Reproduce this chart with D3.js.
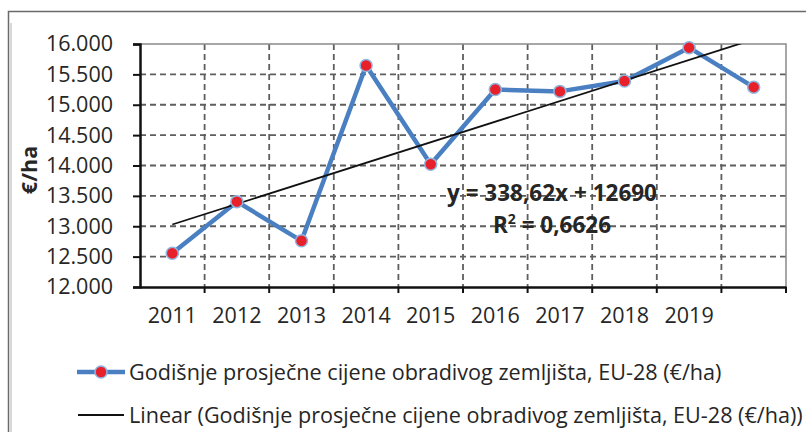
<!DOCTYPE html>
<html lang="hr">
<head>
<meta charset="UTF-8"/>
<title>Godišnje prosječne cijene obradivog zemljišta</title>
<script src="https://d3js.org/d3.v7.min.js"></script>
<style>
    body { margin: 0; background: white; }
    text { font-family: "Open Sans", sans-serif; fill: #262626; }
</style>
</head>
<body>
<script>
    // data
    const years = ["2011", "2012", "2013", "2014", "2015", "2016", "2017", "2018", "2019", "2020"];
    const yearLabels = ["2011", "2012", "2013", "2014", "2015", "2016", "2017", "2018", "2019", ""];
    const prices = [12555, 13405, 12760, 15645, 14020, 15250, 15220, 15390, 15940, 15290];
    const yTicks = [12000, 12500, 13000, 13500, 14000, 14500, 15000, 15500, 16000];
    const trendSlope = 338.62;
    const trendIntercept = 12690;
    const seriesName = "Godišnje prosječne cijene obradivog zemljišta, EU-28 (€/ha)";

    const width = 806;
    const height = 436;
    const margin = {top: 44, right: 20, bottom: 149, left: 140};
    const gW = width - margin.left - margin.right;
    const gH = height - margin.top - margin.bottom;

    const svg = d3.select("body").append("svg")
        .attr("width", width)
        .attr("height", height);

    // outer frame (top and left edge only visible)
    svg.append("path")
        .attr("d", `M8.5,${height - 4} V11.5 H${width}`)
        .attr("fill", "none")
        .attr("stroke", "#6a6a6a")
        .attr("stroke-width", 1.5);
    svg.append("line")
        .attr("x1", 11).attr("x2", 11).attr("y1", 23).attr("y2", height - 4)
        .attr("stroke", "#d8d8d8").attr("stroke-width", 2);

    const g = svg.append("g").attr("transform", `translate(${margin.left}, ${margin.top})`);

    const x = d3.scaleBand().domain(years).range([0, gW]);
    const y = d3.scaleLinear().domain([12000, 16000]).range([gH, 0]);
    const cx = d => x(d) + x.bandwidth() / 2;

    // grid
    g.append("g").selectAll("line")
        .data(yTicks.slice(1, -1))
        .join("line")
        .attr("x1", 0).attr("x2", gW)
        .attr("y1", d => y(d)).attr("y2", d => y(d))
        .attr("stroke", "#5e5e5e").attr("stroke-width", 1.8)
        .attr("stroke-dasharray", "6,4");
    g.append("g").selectAll("line")
        .data(years.slice(1))
        .join("line")
        .attr("x1", d => x(d)).attr("x2", d => x(d))
        .attr("y1", 0).attr("y2", gH)
        .attr("stroke", "#5e5e5e").attr("stroke-width", 1.8)
        .attr("stroke-dasharray", "6,4");

    // plot border top and right
    g.append("path")
        .attr("d", `M0,0 H${gW} V${gH}`)
        .attr("fill", "none")
        .attr("stroke", "#8a8a8a")
        .attr("stroke-width", 1.5);

    // axes
    const yAxis = g.append("g")
        .call(d3.axisLeft(y).tickValues(yTicks).tickSize(7).tickPadding(20)
            .tickFormat(d => d3.format(",")(d).replace(",", ".")));
    yAxis.select(".domain").attr("stroke", "#111").attr("stroke-width", 2.5);
    yAxis.selectAll(".tick line").attr("stroke", "#111").attr("stroke-width", 2);
    yAxis.selectAll(".tick text")
        .style("font-family", "'Open Sans', sans-serif")
        .style("font-size", "21.5px")
        .attr("fill", "#222");

    const xAxis = g.append("g")
        .attr("transform", `translate(0, ${gH})`)
        .call(d3.axisBottom(x).tickSize(0).tickPadding(21).tickFormat((d, i) => yearLabels[i]));
    xAxis.select(".domain").attr("stroke", "#111").attr("stroke-width", 2.5);
    xAxis.selectAll(".tick text")
        .style("font-family", "'Open Sans', sans-serif")
        .style("font-size", "21.5px")
        .attr("fill", "#222");
    xAxis.append("g").selectAll("line")
        .data(years.slice(1).concat(["end"]))
        .join("line")
        .attr("x1", d => d === "end" ? gW : x(d))
        .attr("x2", d => d === "end" ? gW : x(d))
        .attr("y1", 0).attr("y2", 6)
        .attr("stroke", "#111").attr("stroke-width", 2);

    // y axis title
    svg.append("text")
        .attr("transform", `translate(37, 170) rotate(-90)`)
        .attr("text-anchor", "middle")
        .style("font-size", "21.5px")
        .style("font-weight", "bold")
        .text("€/ha");

    // series line
    const line = d3.line().x((d, i) => cx(years[i])).y(d => y(d));
    g.append("path")
        .attr("d", line(prices))
        .attr("fill", "none")
        .attr("stroke", "#4a80c2")
        .attr("stroke-width", 4.5)
        .attr("stroke-linejoin", "round");

    // linear trend, clipped to plot area
    svg.append("clipPath").attr("id", "plotClip")
        .append("rect").attr("width", gW).attr("height", gH);
    const trendEnds = [1, years.length].map(i => ({year: years[i - 1], v: trendSlope * i + trendIntercept}));
    g.append("path")
        .attr("clip-path", "url(#plotClip)")
        .attr("d", d3.line().x(d => cx(d.year)).y(d => y(d.v))(trendEnds))
        .attr("fill", "none")
        .attr("stroke", "#111")
        .attr("stroke-width", 1.8);

    // markers
    g.append("g").selectAll("circle")
        .data(prices)
        .join("circle")
        .attr("cx", (d, i) => cx(years[i]))
        .attr("cy", d => y(d))
        .attr("r", 6)
        .attr("fill", "#e8202a")
        .attr("stroke", "#8fb4e0")
        .attr("stroke-width", 1.5);

    // equation label
    g.append("text")
        .attr("x", 412).attr("y", 157)
        .attr("text-anchor", "middle")
        .style("font-size", "22.5px")
        .style("font-weight", "bold")
        .text("y = 338,62x + 12690");
    const r2 = g.append("text")
        .attr("x", 412).attr("y", 189)
        .attr("text-anchor", "middle")
        .style("font-size", "22.5px")
        .style("font-weight", "bold");
    r2.append("tspan").text("R");
    r2.append("tspan").attr("dy", -9).style("font-size", "14px").text("2");
    r2.append("tspan").attr("dy", 9).text(" = 0,6626");

    // legend
    const leg = svg.append("g");
    leg.append("line")
        .attr("x1", 77).attr("x2", 125).attr("y1", 372).attr("y2", 372)
        .attr("stroke", "#4a80c2").attr("stroke-width", 4.5);
    leg.append("circle")
        .attr("cx", 101).attr("cy", 372).attr("r", 6)
        .attr("fill", "#e8202a").attr("stroke", "#8fb4e0").attr("stroke-width", 1.5);
    leg.append("text")
        .attr("x", 129).attr("y", 380)
        .style("font-size", "21.6px")
        .text(seriesName);
    leg.append("line")
        .attr("x1", 78).attr("x2", 124).attr("y1", 415).attr("y2", 415)
        .attr("stroke", "#111").attr("stroke-width", 1.8);
    leg.append("text")
        .attr("x", 129).attr("y", 423)
        .style("font-size", "21.6px")
        .text(`Linear (${seriesName})`);
</script>
</body>
</html>
